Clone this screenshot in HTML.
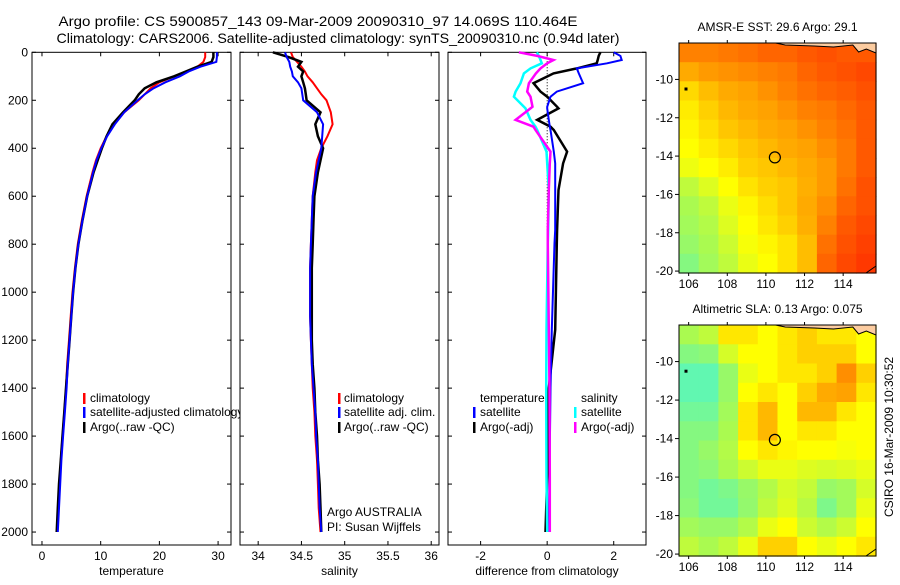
<!DOCTYPE html>
<html><head><meta charset="utf-8"><style>
body{margin:0;background:#fff;}
svg text{font-family:"Liberation Sans",sans-serif;font-size:12px;fill:#000;}
</style></head><body>
<svg id="fig" width="900" height="580" viewBox="0 0 900 580" xmlns="http://www.w3.org/2000/svg">
<defs><clipPath id="c1"><rect x="32" y="0" width="208" height="580"/></clipPath></defs>
<text x="318" y="26" text-anchor="middle" style="font-size:14px" textLength="519" lengthAdjust="spacingAndGlyphs">Argo profile: CS 5900857_143 09-Mar-2009 20090310_97 14.069S 110.464E</text>
<text x="338" y="43" text-anchor="middle" style="font-size:14px" textLength="563" lengthAdjust="spacingAndGlyphs">Climatology: CARS2006. Satellite-adjusted climatology: synTS_20090310.nc (0.94d later)</text>
<g id="g"></g>
<text transform="translate(893,437) rotate(-90)" text-anchor="middle">CSIRO 16-Mar-2009 10:30:52</text>
</svg>
<script>
const depths=[0,20,40,60,80,100,125,150,175,200,250,300,350,400,450,500,600,700,800,900,1000,1100,1200,1300,1400,1500,1600,1700,1800,1900,2000];
const tempClim=[27.8,27.8,27.5,26.5,24.5,22.5,20,18.5,17.5,16.5,14,12.3,11,10,9.2,8.6,7.6,6.8,6.1,5.6,5.2,4.9,4.6,4.3,4.1,3.8,3.5,3.2,3.0,2.8,2.6];
const tempSat=[29.8,29.8,29.7,27,25,23.5,21,19,17.5,16.3,14,12.4,11.1,10.1,9.3,8.7,7.7,6.9,6.2,5.7,5.3,5.0,4.7,4.4,4.2,3.9,3.6,3.3,3.1,2.9,2.7];
const tempArgo=[29.2,29.2,28.9,26.5,24.5,22.5,19.5,17.5,16.5,15.8,13.8,12,11,10.2,9.5,8.8,7.7,6.9,6.2,5.7,5.3,5.0,4.7,4.4,4.1,3.8,3.5,3.2,2.9,2.7,2.5];
const salClim=[34.38,34.4,34.45,34.5,34.54,34.57,34.63,34.68,34.73,34.79,34.84,34.86,34.8,34.73,34.68,34.66,34.63,34.62,34.61,34.6,34.6,34.6,34.61,34.62,34.63,34.65,34.66,34.68,34.69,34.7,34.72];
const salSat=[34.31,34.33,34.36,34.37,34.39,34.4,34.46,34.5,34.51,34.52,34.68,34.75,34.74,34.73,34.7,34.67,34.63,34.62,34.61,34.6,34.6,34.6,34.61,34.62,34.64,34.66,34.67,34.69,34.7,34.71,34.73];
const salArgo=[34.17,34.35,34.5,34.46,34.52,34.5,34.52,34.54,34.55,34.56,34.72,34.66,34.69,34.75,34.72,34.69,34.65,34.64,34.63,34.62,34.62,34.62,34.62,34.63,34.65,34.66,34.68,34.69,34.71,34.72,34.73];
const dDepths=[0,15,32,46,67,88,129,164,185,227,234,282,310,324,414,463,574,740,796,1157,1400,1770,2000];
const dTempSat=[2.0,2.2,2.24,1.8,0.89,0.95,1.08,0.29,0.1,0,0,0.05,0.08,0.1,0.2,0.24,0.24,0.24,0.22,0.14,0.1,0.07,0.05];
const dTempArgo=[1.6,1.55,1.52,1.49,0.89,0.19,-0.41,-0.2,0,0.3,0.34,-0.3,0.1,0.2,0.6,0.48,0.34,0.3,0.29,0.24,0.05,0,-0.05];
const dSalSat=[-0.31,-0.25,-0.2,-0.16,-0.5,-0.7,-0.8,-0.95,-1.0,-0.7,-0.65,-0.5,-0.35,-0.3,-0.02,0,0.05,0.03,0.02,-0.02,-0.03,-0.02,0];
const dSalArgo=[-0.85,-0.3,0.19,0,-0.2,-0.34,-0.55,-0.6,-0.5,-0.44,-0.5,-0.95,-0.41,-0.35,0.1,0.08,0.05,0.02,0.02,0.05,0.07,0.08,0.08];
const tempTicks=[0,10,20,30], salTicks=[34,34.5,35,35.5,36], diffTicks=[-2,0,2], depthTicks=[0,200,400,600,800,1000,1200,1400,1600,1800,2000];
const latTicks=[-10,-12,-14,-16,-18,-20], lonTicks=[106,108,110,112,114];
const sstGrid=[
[0.78,0.78,0.8,0.82,0.85,0.85,0.88,0.9,0.88,0.88],
[0.68,0.72,0.74,0.76,0.78,0.8,0.85,0.88,0.9,0.92],
[0.58,0.64,0.68,0.7,0.74,0.78,0.82,0.85,0.87,0.9],
[0.54,0.6,0.65,0.68,0.7,0.74,0.78,0.8,0.84,0.88],
[0.52,0.57,0.62,0.65,0.68,0.7,0.74,0.78,0.82,0.88],
[0.5,0.54,0.58,0.62,0.65,0.68,0.7,0.75,0.8,0.88],
[0.46,0.5,0.54,0.6,0.62,0.65,0.68,0.72,0.8,0.88],
[0.35,0.42,0.5,0.56,0.6,0.62,0.67,0.72,0.82,0.9],
[0.3,0.35,0.45,0.52,0.57,0.62,0.68,0.75,0.85,0.9],
[0.28,0.32,0.42,0.5,0.55,0.6,0.67,0.78,0.88,0.92],
[0.25,0.3,0.38,0.48,0.52,0.56,0.64,0.82,0.9,0.94],
[0.2,0.28,0.35,0.45,0.5,0.56,0.64,0.85,0.92,0.96]];
const slaGrid=[
[0.3,0.35,0.55,0.55,0.5,0.55,0.6,0.55,0.55,0.5],
[0.2,0.22,0.4,0.5,0.5,0.55,0.6,0.6,0.6,0.5],
[0.1,0.1,0.25,0.45,0.5,0.55,0.55,0.6,0.75,0.6],
[0.1,0.1,0.25,0.5,0.55,0.5,0.6,0.68,0.7,0.55],
[0.15,0.15,0.28,0.55,0.65,0.5,0.65,0.65,0.55,0.5],
[0.2,0.2,0.3,0.55,0.65,0.5,0.55,0.55,0.5,0.5],
[0.2,0.25,0.32,0.5,0.55,0.52,0.5,0.5,0.48,0.5],
[0.2,0.22,0.3,0.38,0.45,0.45,0.42,0.4,0.42,0.45],
[0.2,0.15,0.18,0.25,0.32,0.4,0.36,0.25,0.28,0.4],
[0.22,0.15,0.15,0.24,0.35,0.42,0.33,0.18,0.28,0.45],
[0.28,0.25,0.25,0.32,0.45,0.5,0.38,0.32,0.38,0.5],
[0.35,0.3,0.35,0.45,0.6,0.6,0.5,0.45,0.5,0.55]];
const argoLon=110.464, argoLat=-14.069;

const NS="http://www.w3.org/2000/svg", G=document.getElementById('g');
function mk(t,a,p){const e=document.createElementNS(NS,t);for(const k in a)e.setAttribute(k,a[k]);(p||G).appendChild(e);return e;}
const Y0=52.3,Y1=545,D1=2054;
const yD=d=>Y0+d/D1*(Y1-Y0);
function lin(d0,d1,r0,r1){return v=>r0+(v-d0)/(d1-d0)*(r1-r0);}
const panels=[
 {x0:32,x1:231,xs:lin(-1.7,32.2,32,231),ticks:tempTicks,label:'temperature',name:'temperature-panel',yl:true},
 {x0:240,x1:439,xs:lin(33.79,36.09,240,439),ticks:salTicks,label:'salinity',name:'salinity-panel'},
 {x0:448,x1:646,xs:lin(-2.98,2.97,448,646),ticks:diffTicks,label:'difference from climatology',name:'difference-panel'}];
panels.forEach(p=>{
 const g=mk('g',{});
 
 
 const r=mk('rect',{x:p.x0,y:Y0,width:p.x1-p.x0,height:Y1-Y0,fill:'none',stroke:'#000','stroke-width':1},g);
 
 
 p.ticks.forEach(t=>{const x=p.xs(t);
  mk('line',{x1:x,x2:x,y1:Y1,y2:Y1-4,stroke:'#000'},g);mk('line',{x1:x,x2:x,y1:Y0,y2:Y0+4,stroke:'#000'},g);
  const tx=mk('text',{x:x,y:Y1+15,'text-anchor':'middle'},g);tx.textContent=t;
  
  });
 const xl=mk('text',{x:(p.x0+p.x1)/2,y:575,'text-anchor':'middle'},g);xl.textContent=p.label;
 
 
 depthTicks.forEach(d=>{const y=yD(d);
  mk('line',{x1:p.x0,x2:p.x0+4,y1:y,y2:y,stroke:'#000'},g);mk('line',{x1:p.x1,x2:p.x1-4,y1:y,y2:y,stroke:'#000'},g);
  if(p.yl){const tx=mk('text',{x:28,y:y+4,'text-anchor':'end'},g);tx.textContent=d;
   
   }});
});
function line(xs,vals,ds,col,w,name,dash){
 const pts=vals.map((v,i)=>xs(v).toFixed(1)+','+yD(ds[i]).toFixed(1)).join(' ');
 const e=mk('polyline',{points:pts,fill:'none',stroke:col,'stroke-width':w,'stroke-linejoin':'miter'});
 if(dash)e.setAttribute('stroke-dasharray',dash);
 
 
}
const P=panels;
line(P[0].xs,tempClim,depths,'#f00',2,'temp-climatology-line');
line(P[0].xs,tempArgo,depths,'#000',2.5,'temp-argo-line');
line(P[0].xs,tempSat,depths,'#00f',2,'temp-satellite-line');
line(P[1].xs,salClim,depths,'#f00',2,'sal-climatology-line');
line(P[1].xs,salArgo,depths,'#000',2.5,'sal-argo-line');
line(P[1].xs,salSat,depths,'#00f',2,'sal-satellite-line');
line(P[2].xs,[0,0],[0,740],'#000',1,'zero-reference-line','1,2');
line(P[2].xs,dTempArgo,dDepths,'#000',2.5,'diff-temp-argo-line');
line(P[2].xs,dTempSat,dDepths,'#00f',2,'diff-temp-satellite-line');
line(P[2].xs,dSalSat,dDepths,'#0ff',2.5,'diff-sal-satellite-line');
line(P[2].xs,dSalArgo,dDepths,'#f0f',2.5,'diff-sal-argo-line');
function legend(items,mx,tx,ys,clip){
 items.forEach((it,i)=>{
  if(it[1]){const m=mk('rect',{x:mx,y:ys[i]-9,width:2.5,height:11,fill:it[1]});
   
   }
  const t=mk('text',{x:tx,y:ys[i]});t.textContent=it[0];
  if(clip)t.setAttribute('clip-path','url(#c1)');
  
  });
}
const LY=[402,416,431];
legend([['climatology','#f00'],['satellite-adjusted climatology','#00f'],['Argo(..raw -QC)','#000']],83,90,LY,true);
legend([['climatology','#f00'],['satellite adj. clim.','#00f'],['Argo(..raw -QC)','#000']],338,344,LY);
legend([['temperature',null],['satellite','#00f'],['Argo(-adj)','#000']],473,480,LY);
legend([['salinity',null],['satellite','#0ff'],['Argo(-adj)','#f0f']],574,581,LY);
[['Argo AUSTRALIA',516],['PI: Susan Wijffels',531]].forEach(a=>{const t=mk('text',{x:327,y:a[1]});t.textContent=a[0];
 
 });

function cmap(v){const st=[[0,[60,245,225]],[0.3,[170,250,80]],[0.5,[255,255,0]],[0.68,[255,170,0]],[1,[255,40,0]]];
 for(let i=1;i<st.length;i++)if(v<=st[i][0]){const a=st[i-1],b=st[i],f=(v-a[0])/(b[0]-a[0]);
  return 'rgb('+a[1].map((c,k)=>Math.round(c+(b[1][k]-c)*f)).join(',')+')';}
 return 'rgb(255,40,0)';}
function map(grid,top,bot,title,name){
 const x0=679,x1=876,xs=lin(105.5,115.7,x0,x1),ys=lin(-8.1,-20.1,top,bot);
 const g=mk('g',{});
 
 
 grid.forEach((row,i)=>row.forEach((v,j)=>{
  const lx=105.5+j*1.02, la=-8.1-i;
  mk('rect',{x:xs(lx).toFixed(1),y:ys(la).toFixed(1),width:(xs(lx+1.02)-xs(lx)+0.6).toFixed(1),height:(ys(la-1)-ys(la)+0.6).toFixed(1),fill:cmap(v)},g);}));
 const land=mk('path',{d:`M${xs(110.5)},${top} L${xs(111)},${top+2} L${xs(112.5)},${top+3} L${xs(113.5)},${top+4} L${xs(114.5)},${top+2} L${xs(114.8)},${top+9} L${xs(115.2)},${top+6} L${x1},${top+10} L${x1},${top} Z`,fill:'#fccca0',stroke:'#000','stroke-width':1},g);
 
 
 mk('path',{d:`M${x1-10},${bot} L${x1},${bot-7}`,stroke:'#000',fill:'none'},g);
 mk('rect',{x:684.5,y:ys(-10.5)-1.5,width:3,height:3,fill:'#000'},g);
 mk('rect',{x:x0,y:top,width:x1-x0,height:bot-top,fill:'none',stroke:'#000'},g);
 const c=mk('circle',{cx:xs(argoLon),cy:ys(argoLat),r:5.5,fill:'none',stroke:'#000','stroke-width':1.2},g);
 
 
 latTicks.forEach(l=>{const y=ys(l);mk('line',{x1:x0-4,x2:x0,y1:y,y2:y,stroke:'#000'},g);
  const t=mk('text',{x:x0-6,y:y+4,'text-anchor':'end'},g);t.textContent=l;
  
  });
 lonTicks.forEach(l=>{const x=xs(l);mk('line',{x1:x,x2:x,y1:bot,y2:bot+3,stroke:'#000'},g);mk('line',{x1:x,x2:x,y1:top,y2:top-3,stroke:'#000'},g);
  const t=mk('text',{x:x,y:bot+15,'text-anchor':'middle'},g);t.textContent=l;
  
  });
 const t=mk('text',{x:(x0+x1)/2,y:top-12,'text-anchor':'middle'},g);t.textContent=title;
 
 
}
map(sstGrid,43,273,'AMSR-E SST: 29.6 Argo: 29.1','sst-map');
map(slaGrid,325,556,'Altimetric SLA: 0.13 Argo: 0.075','sla-map');
</script>
</body></html>
